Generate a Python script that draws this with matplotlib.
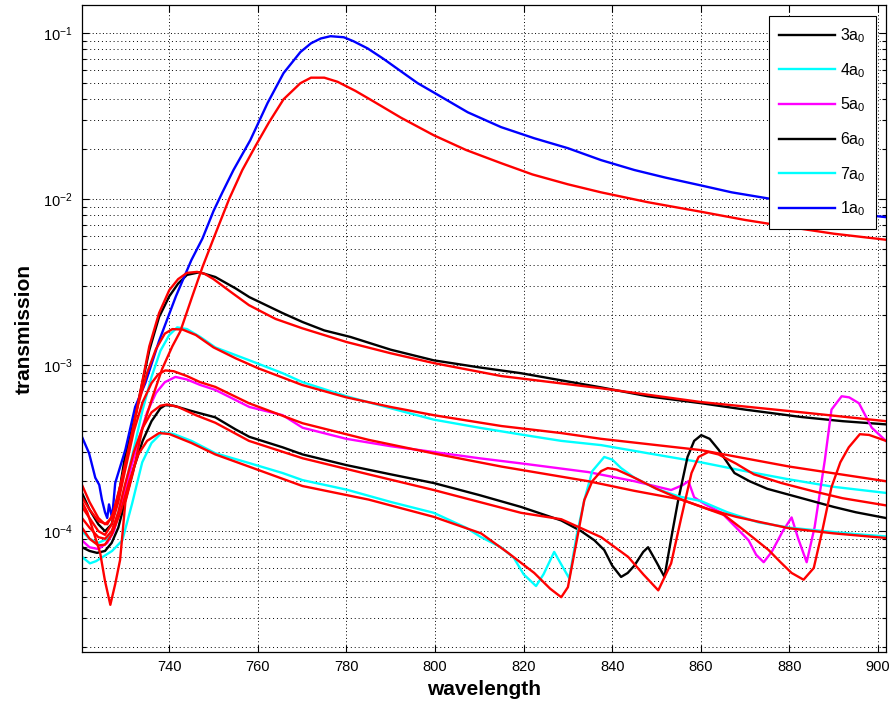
import numpy as np
import matplotlib.pyplot as plt
from matplotlib.ticker import LogLocator, NullFormatter, FixedLocator

plt.rcParams['font.family'] = ['Liberation Sans', 'DejaVu Sans']
plt.rcParams['mathtext.default'] = 'regular'

# measured spectra
wl_1 = [720.3, 721.9, 723.3, 724.2, 724.8, 725.5, 726.0, 726.4, 727.1, 727.8, 730.1, 732.3, 734.6, 737.7,
        741.5, 745.0, 747.5, 750.0, 752.0, 754.5, 758.3, 762.2, 765.8, 769.6, 772.0, 774.2, 776.4, 779.4,
        781.6, 784.8, 788.4, 792.3, 796.1, 799.7, 807.4, 814.9, 822.4, 830.0, 837.5, 845.0, 852.0, 860.1,
        867.0, 875.3, 882.0, 890.0, 896.0, 901.8]
tr_1 = [3.7e-4, 2.95e-4, 2.1e-4, 1.9e-4, 1.55e-4, 1.3e-4, 1.2e-4, 1.45e-4, 1.2e-4, 1.95e-4, 3.1e-4, 5.6e-4,
        7.8e-4, 1.4e-3, 2.6e-3, 4.3e-3, 5.8e-3, 8.5e-3, 1.1e-2, 1.5e-2, 2.27e-2, 3.8e-2, 5.75e-2, 7.7e-2,
        8.7e-2, 9.3e-2, 9.6e-2, 9.46e-2, 8.95e-2, 8.1e-2, 7.0e-2, 5.9e-2, 5.0e-2, 4.4e-2, 3.34e-2, 2.72e-2,
        2.33e-2, 2.03e-2, 1.72e-2, 1.5e-2, 1.35e-2, 1.21e-2, 1.1e-2, 1.01e-2, 9.3e-3, 8.7e-3, 8.1e-3, 7.8e-3]

wl_3 = [720.3, 722.0, 724.0, 725.5, 727.0, 728.5, 730.0, 732.3, 734.0, 735.5, 737.7, 740.0, 742.0, 744.0,
        746.8, 750.4, 755.0, 758.1, 765.6, 770.1, 775.0, 780.9, 790.0, 799.7, 810.0, 819.4, 828.0, 837.5,
        848.0, 860.1, 870.0, 882.8, 892.0, 901.8]
tr_3 = [1.7e-4, 1.35e-4, 1.1e-4, 1.0e-4, 1.1e-4, 1.6e-4, 2.8e-4, 4.9e-4, 8.0e-4, 1.23e-3, 1.95e-3, 2.6e-3,
        3.1e-3, 3.5e-3, 3.63e-3, 3.4e-3, 2.9e-3, 2.57e-3, 2.06e-3, 1.82e-3, 1.62e-3, 1.48e-3, 1.24e-3,
        1.07e-3, 9.7e-4, 8.95e-4, 8.15e-4, 7.35e-4, 6.5e-4, 5.9e-4, 5.4e-4, 4.87e-4, 4.6e-4, 4.4e-4]

wl_4 = [720.3, 722.0, 724.0, 726.0, 727.5, 729.0, 730.5, 732.3, 734.0, 736.0, 738.0, 740.0, 741.8, 744.0,
        747.0, 750.4, 755.0, 758.1, 765.6, 770.1, 780.0, 790.0, 799.7, 810.0, 820.0, 828.5, 837.5, 848.0,
        860.0, 870.0, 880.0, 890.0, 901.8]
tr_4 = [1.0e-4, 9.0e-5, 8.5e-5, 9.0e-5, 1.05e-4, 1.45e-4, 2.1e-4, 3.4e-4, 5.4e-4, 8.5e-4, 1.22e-3, 1.52e-3,
        1.69e-3, 1.65e-3, 1.48e-3, 1.28e-3, 1.15e-3, 1.07e-3, 8.95e-4, 7.9e-4, 6.5e-4, 5.5e-4, 4.7e-4,
        4.2e-4, 3.8e-4, 3.5e-4, 3.3e-4, 2.95e-4, 2.6e-4, 2.3e-4, 2.05e-4, 1.85e-4, 1.7e-4]

wl_5 = [720.3, 722.0, 724.0, 726.0, 727.5, 729.0, 731.0, 733.0, 735.0, 737.0, 739.0, 741.4, 744.0, 747.0,
        750.4, 758.1, 765.6, 770.1, 780.0, 790.0, 799.7, 810.0, 820.0, 834.6, 845.0, 853.3, 856.0, 857.2,
        858.5, 861.0, 864.7, 868.0, 870.8, 872.5, 874.2, 876.0, 878.5, 880.5, 882.0, 883.9, 885.7, 888.0,
        889.5, 891.8, 893.5, 895.7, 898.6, 901.8]
tr_5 = [8.8e-5, 8.0e-5, 7.8e-5, 8.5e-5, 1.0e-4, 1.4e-4, 2.2e-4, 3.5e-4, 5.2e-4, 6.8e-4, 7.9e-4, 8.5e-4,
        8.2e-4, 7.6e-4, 7.1e-4, 5.6e-4, 5.0e-4, 4.2e-4, 3.6e-4, 3.25e-4, 3.0e-4, 2.75e-4, 2.55e-4, 2.27e-4,
        2.0e-4, 1.77e-4, 1.9e-4, 2.0e-4, 1.6e-4, 1.45e-4, 1.29e-4, 1.05e-4, 8.8e-5, 7.2e-5, 6.5e-5, 7.5e-5,
        1.0e-4, 1.21e-4, 9.0e-5, 6.5e-5, 1.06e-4, 2.68e-4, 5.4e-4, 6.5e-4, 6.4e-4, 5.9e-4, 4.2e-4, 3.5e-4]

wl_6 = [720.3, 722.0, 723.7, 725.5, 727.0, 728.5, 730.0, 732.0, 734.0, 736.0, 738.0, 739.1, 741.0, 745.0,
        750.4, 755.0, 758.1, 765.6, 770.1, 780.0, 790.0, 799.7, 810.0, 819.4, 828.5, 833.0, 836.0, 838.2,
        840.0, 842.0, 843.5, 845.0, 847.0, 848.1, 850.0, 851.8, 853.3, 854.9, 857.0, 858.5, 860.1, 862.0,
        864.0, 867.6, 871.0, 875.0, 882.8, 890.0, 895.0, 901.8]
tr_6 = [8.0e-5, 7.6e-5, 7.4e-5, 7.6e-5, 8.5e-5, 1.05e-4, 1.5e-4, 2.4e-4, 3.5e-4, 4.6e-4, 5.5e-4, 5.74e-4,
        5.7e-4, 5.3e-4, 4.85e-4, 4.1e-4, 3.7e-4, 3.2e-4, 2.9e-4, 2.5e-4, 2.2e-4, 1.95e-4, 1.65e-4, 1.4e-4,
        1.16e-4, 1.0e-4, 8.8e-5, 7.7e-5, 6.2e-5, 5.3e-5, 5.6e-5, 6.2e-5, 7.5e-5, 8.0e-5, 6.5e-5, 5.3e-5,
        9.0e-5, 1.54e-4, 2.8e-4, 3.5e-4, 3.79e-4, 3.6e-4, 3.1e-4, 2.24e-4, 2.0e-4, 1.8e-4, 1.58e-4, 1.4e-4,
        1.3e-4, 1.2e-4]

wl_7 = [720.3, 722.1, 723.5, 725.0, 727.1, 729.4, 731.6, 733.9, 736.0, 738.4, 741.0, 745.0, 750.4, 758.1,
        765.6, 770.1, 780.0, 790.0, 799.7, 807.0, 810.4, 814.9, 817.8, 820.0, 822.8, 824.5, 826.9, 828.5,
        830.3, 832.0, 833.7, 835.5, 838.2, 840.0, 842.0, 845.0, 850.0, 855.0, 860.0, 866.0, 873.0, 880.0,
        888.0, 895.0, 901.8]
tr_7 = [7.0e-5, 6.4e-5, 6.6e-5, 7.0e-5, 7.6e-5, 8.8e-5, 1.46e-4, 2.6e-4, 3.4e-4, 3.94e-4, 3.85e-4, 3.5e-4,
        2.95e-4, 2.57e-4, 2.24e-4, 2.03e-4, 1.78e-4, 1.5e-4, 1.29e-4, 1.05e-4, 9.2e-5, 8.0e-5, 6.9e-5,
        5.5e-5, 4.67e-5, 5.5e-5, 7.5e-5, 6.3e-5, 5.2e-5, 9.5e-5, 1.54e-4, 2.3e-4, 2.8e-4, 2.7e-4, 2.4e-4,
        2.1e-4, 1.8e-4, 1.62e-4, 1.52e-4, 1.3e-4, 1.13e-4, 1.05e-4, 1.0e-4, 9.6e-5, 9.3e-5]

# model fits
fwl_1 = [720.3, 721.5, 722.6, 724.4, 725.5, 726.7, 727.8, 728.9, 730.1, 731.9, 733.9, 736.2, 738.4, 740.7,
         742.5, 745.2, 747.5, 750.0, 753.5, 756.5, 759.5, 762.5, 765.8, 769.6, 772.0, 775.0, 778.0, 782.0,
         786.0, 792.3, 799.7, 807.0, 814.9, 822.0, 830.0, 837.5, 848.0, 860.1, 870.0, 880.0, 890.0, 901.8]
ftr_1 = [1.5e-4, 1.3e-4, 1.05e-4, 7.4e-5, 5.0e-5, 3.6e-5, 4.8e-5, 6.7e-5, 1.5e-4, 2.3e-4, 4.1e-4, 6.4e-4,
         9.5e-4, 1.3e-3, 1.6e-3, 2.6e-3, 3.9e-3, 5.8e-3, 1.0e-2, 1.5e-2, 2.1e-2, 2.9e-2, 4.0e-2, 5.0e-2,
         5.4e-2, 5.4e-2, 5.1e-2, 4.5e-2, 3.9e-2, 3.1e-2, 2.43e-2, 1.98e-2, 1.65e-2, 1.41e-2, 1.23e-2, 1.1e-2,
         9.6e-3, 8.4e-3, 7.5e-3, 6.8e-3, 6.2e-3, 5.7e-3]

fwl_3 = [720.3, 722.0, 724.0, 725.5, 727.0, 729.0, 731.0, 733.0, 735.5, 737.7, 740.0, 742.0, 744.0, 746.3,
         748.0, 750.0, 754.0, 758.0, 764.0, 770.0, 780.0, 790.0, 799.7, 815.0, 837.5, 860.0, 882.8, 901.8]
ftr_3 = [1.9e-4, 1.5e-4, 1.2e-4, 1.1e-4, 1.2e-4, 1.9e-4, 3.2e-4, 6.0e-4, 1.3e-3, 2.06e-3, 2.83e-3, 3.3e-3,
         3.6e-3, 3.65e-3, 3.55e-3, 3.3e-3, 2.75e-3, 2.3e-3, 1.9e-3, 1.67e-3, 1.38e-3, 1.18e-3, 1.03e-3,
         8.6e-4, 7.26e-4, 6.0e-4, 5.2e-4, 4.6e-4]

fwl_4 = [720.3, 722.0, 724.0, 726.0, 727.5, 729.0, 731.0, 733.0, 735.0, 737.0, 739.0, 740.7, 743.0, 746.0,
         750.0, 755.0, 760.0, 770.0, 780.0, 790.0, 799.7, 815.0, 828.5, 837.5, 860.0, 880.0, 901.8]
ftr_4 = [1.6e-4, 1.35e-4, 1.15e-4, 1.1e-4, 1.3e-4, 1.9e-4, 3.3e-4, 5.8e-4, 9.0e-4, 1.25e-3, 1.55e-3, 1.65e-3,
         1.64e-3, 1.52e-3, 1.28e-3, 1.1e-3, 9.6e-4, 7.6e-4, 6.4e-4, 5.6e-4, 5.0e-4, 4.3e-4, 3.9e-4, 3.6e-4,
         3.08e-4, 2.45e-4, 2.0e-4]

fwl_5 = [720.3, 722.0, 724.0, 725.5, 727.0, 728.5, 730.0, 732.0, 734.0, 736.0, 737.5, 739.1, 741.0, 744.0,
         747.0, 750.4, 758.0, 770.1, 785.0, 799.7, 815.0, 834.6, 845.0, 855.6, 865.3, 870.0, 875.3, 878.0,
         880.5, 883.2, 885.5, 887.3, 889.5, 891.5, 893.4, 895.9, 898.0, 901.8]
ftr_5 = [1.4e-4, 1.2e-4, 1.0e-4, 9.5e-5, 1.1e-4, 1.5e-4, 2.3e-4, 4.0e-4, 6.0e-4, 7.8e-4, 8.8e-4, 9.3e-4,
         9.2e-4, 8.6e-4, 7.9e-4, 7.4e-4, 5.9e-4, 4.47e-4, 3.55e-4, 2.94e-4, 2.45e-4, 2.0e-4, 1.75e-4,
         1.55e-4, 1.25e-4, 1.0e-4, 7.7e-5, 6.5e-5, 5.6e-5, 5.1e-5, 6.0e-5, 9.7e-5, 1.84e-4, 2.6e-4, 3.2e-4,
         3.84e-4, 3.8e-4, 3.5e-4]

fwl_6 = [720.3, 722.0, 724.0, 725.5, 727.0, 728.5, 730.0, 732.0, 734.0, 736.0, 738.0, 739.5, 742.0, 746.0,
         750.4, 758.0, 770.1, 785.0, 799.7, 810.0, 819.4, 828.5, 837.5, 843.6, 847.0, 850.4, 853.3, 855.6,
         857.9, 859.5, 861.7, 864.0, 868.0, 872.0, 878.2, 885.0, 892.0, 901.8]
ftr_6 = [1.2e-4, 1.05e-4, 9.2e-5, 9.0e-5, 1.0e-4, 1.3e-4, 1.9e-4, 3.0e-4, 4.2e-4, 5.2e-4, 5.7e-4, 5.8e-4,
         5.6e-4, 5.0e-4, 4.5e-4, 3.5e-4, 2.75e-4, 2.2e-4, 1.77e-4, 1.5e-4, 1.29e-4, 1.18e-4, 9.2e-5, 7.0e-5,
         5.5e-5, 4.4e-5, 6.4e-5, 1.21e-4, 2.24e-4, 2.8e-4, 3.0e-4, 2.9e-4, 2.55e-4, 2.2e-4, 1.95e-4, 1.75e-4,
         1.58e-4, 1.43e-4]

fwl_7 = [720.3, 722.0, 724.0, 725.5, 727.0, 729.0, 731.0, 733.0, 735.0, 737.7, 740.0, 745.0, 750.4, 758.0,
         770.1, 785.0, 799.7, 810.4, 816.5, 822.4, 826.0, 828.5, 830.0, 832.3, 833.7, 835.5, 837.5, 839.0,
         841.0, 845.0, 850.0, 855.6, 862.0, 868.0, 873.7, 880.0, 890.0, 901.8]
ftr_7 = [1.05e-4, 9.0e-5, 8.2e-5, 8.3e-5, 9.5e-5, 1.3e-4, 2.0e-4, 2.9e-4, 3.5e-4, 3.9e-4, 3.85e-4, 3.4e-4,
         2.9e-4, 2.45e-4, 1.87e-4, 1.55e-4, 1.22e-4, 9.7e-5, 7.4e-5, 5.6e-5, 4.5e-5, 4.0e-5, 4.6e-5, 9.7e-5,
         1.54e-4, 2.0e-4, 2.3e-4, 2.4e-4, 2.35e-4, 2.1e-4, 1.8e-4, 1.55e-4, 1.35e-4, 1.22e-4, 1.13e-4,
         1.04e-4, 9.7e-5, 9.1e-5]

fig = plt.figure(figsize=(8.95, 7.14), dpi=100)
ax = fig.add_axes([0.0916, 0.0868, 0.8983, 0.9062])

lw = 1.7
ax.plot(wl_3, tr_3, color='black', lw=lw, label='3a$_0$')
ax.plot(wl_4, tr_4, color='cyan', lw=lw, label='4a$_0$')
ax.plot(wl_5, tr_5, color='magenta', lw=lw, label='5a$_0$')
ax.plot(wl_6, tr_6, color='black', lw=lw, label='6a$_0$')
ax.plot(wl_7, tr_7, color='cyan', lw=lw, label='7a$_0$')
ax.plot(wl_1, tr_1, color='blue', lw=lw, label='1a$_0$')

for fx, fy in [(fwl_3, ftr_3), (fwl_4, ftr_4), (fwl_5, ftr_5),
               (fwl_6, ftr_6), (fwl_7, ftr_7), (fwl_1, ftr_1)]:
    ax.plot(fx, fy, color='red', lw=lw)

ax.set_yscale('log')
ax.set_xlim(720.3, 901.8)
ax.set_ylim(1.87e-5, 0.148)
ax.xaxis.set_major_locator(FixedLocator(np.arange(740, 901, 20)))
ax.yaxis.set_major_locator(LogLocator(base=10, numticks=10))
ax.yaxis.set_minor_locator(LogLocator(base=10, subs=np.arange(2, 10), numticks=20))
ax.yaxis.set_minor_formatter(NullFormatter())

ax.tick_params(which='both', direction='in', top=True, right=True, labelsize=10.5, colors='black')
ax.tick_params(which='major', length=5, width=0.8)
ax.tick_params(which='minor', length=3, width=0.8)
ax.tick_params(axis='x', pad=6)
ax.tick_params(axis='y', pad=7)

ax.grid(True, which='major', color='black', linestyle=(0, (1, 2.5)), linewidth=0.7)
ax.grid(True, which='minor', axis='y', color='black', linestyle=(0, (1, 3)), linewidth=0.7)
for sp in ax.spines.values():
    sp.set_linewidth(0.9)

ax.set_xlabel('wavelength', fontsize=15, fontweight='bold', labelpad=4)
ax.set_ylabel('transmission', fontsize=15, fontweight='bold', labelpad=6)

leg = ax.legend(loc='upper right', bbox_to_anchor=(0.9876, 0.983), borderaxespad=0, fontsize=11.5,
                handlelength=3.5, labelspacing=1.0, handletextpad=0.3, borderpad=0.65, fancybox=False,
                framealpha=1, edgecolor='black')
leg.get_frame().set_linewidth(0.8)

fig.savefig('out.png', dpi=100)
